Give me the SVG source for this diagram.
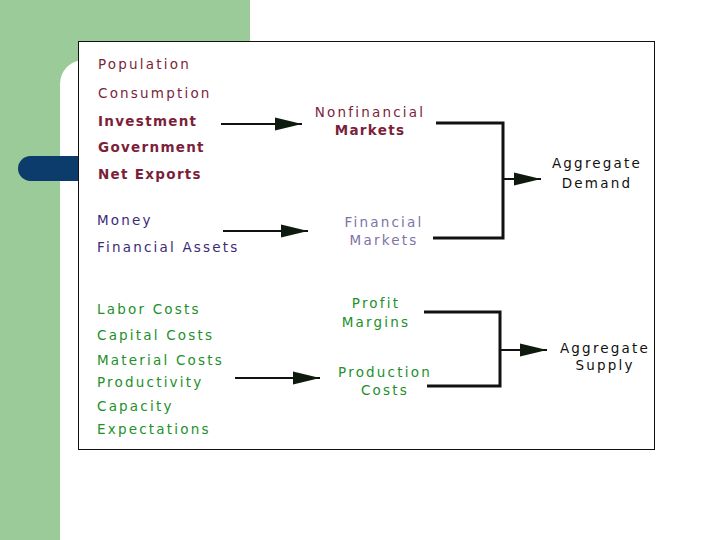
<svg xmlns="http://www.w3.org/2000/svg" width="720" height="540" viewBox="0 0 720 540">
<defs>
<style>
text{font-family:"DejaVu Sans","Liberation Sans",sans-serif;font-size:13.5px;letter-spacing:2.2px}
.b{font-weight:bold;letter-spacing:1.3px}
.m{fill:#7b1f3a}
.p{fill:#3c2a78}
.lp{fill:#7f72a8}
.g{fill:#22902a}
.k{fill:#111}
.ln{stroke:#111;stroke-width:2.2;fill:none}
.br{stroke:#111;stroke-width:3;fill:none}
</style>
<marker id="ah" markerUnits="userSpaceOnUse" markerWidth="28" markerHeight="14" refX="27" refY="7" orient="auto">
<path d="M0,0.5 L27,7 L0,13.5 Z" fill="#0f1a0f"/>
</marker>
</defs>
<rect x="0" y="0" width="720" height="540" fill="#fff"/>
<rect x="0" y="0" width="250" height="540" fill="#9ccb9a"/>
<rect x="60" y="60" width="700" height="520" rx="24" fill="#fff"/>
<rect x="18" y="156" width="90" height="25" rx="12.5" fill="#0c3c6c"/>
<rect x="78.5" y="41.5" width="576" height="408" fill="#fff" stroke="#111" stroke-width="1"/>
<g id="inputs-demand">
<text class="m" x="98" y="69">Population</text>
<text class="m" x="98" y="98">Consumption</text>
<text class="m b" x="98" y="126">Investment</text>
<text class="m b" x="98" y="152">Government</text>
<text class="m b" x="98" y="179">Net Exports</text>
</g>
<g id="inputs-financial">
<text class="p" x="97" y="225">Money</text>
<text class="p" x="97" y="252">Financial Assets</text>
</g>
<g id="inputs-supply">
<text class="g" x="97" y="314">Labor Costs</text>
<text class="g" x="97" y="340">Capital Costs</text>
<text class="g" x="97" y="365">Material Costs</text>
<text class="g" x="97" y="387">Productivity</text>
<text class="g" x="97" y="411">Capacity</text>
<text class="g" x="97" y="434">Expectations</text>
</g>
<g id="nonfinancial-markets">
<text class="m" x="370" y="117" text-anchor="middle">Nonfinancial</text>
<text class="m b" x="370" y="135" text-anchor="middle">Markets</text>
</g>
<g id="financial-markets">
<text class="lp" x="384" y="227" text-anchor="middle">Financial</text>
<text class="lp" x="384" y="245" text-anchor="middle">Markets</text>
</g>
<g id="profit-margins">
<text class="g" x="376" y="308" text-anchor="middle">Profit</text>
<text class="g" x="376" y="327" text-anchor="middle">Margins</text>
</g>
<g id="production-costs">
<text class="g" x="385" y="377" text-anchor="middle">Production</text>
<text class="g" x="385" y="395" text-anchor="middle">Costs</text>
</g>
<g id="aggregate-demand">
<text class="k" x="597" y="168" text-anchor="middle">Aggregate</text>
<text class="k" x="597" y="188" text-anchor="middle">Demand</text>
</g>
<g id="aggregate-supply">
<text class="k" x="605" y="353" text-anchor="middle">Aggregate</text>
<text class="k" x="605" y="370" text-anchor="middle">Supply</text>
</g>
<g id="connectors">
<line class="ln" x1="221" y1="124" x2="302" y2="124" marker-end="url(#ah)"/>
<line class="ln" x1="223" y1="231" x2="308" y2="231" marker-end="url(#ah)"/>
<line class="ln" x1="235" y1="378" x2="320" y2="378" marker-end="url(#ah)"/>
<polyline class="br" points="436,123 503,123 503,238 433,238"/>
<line class="ln" x1="503" y1="179" x2="541" y2="179" marker-end="url(#ah)"/>
<polyline class="br" points="424,312 500,312 500,386 427,386"/>
<line class="ln" x1="500" y1="350" x2="547" y2="350" marker-end="url(#ah)"/>
</g>
</svg>
